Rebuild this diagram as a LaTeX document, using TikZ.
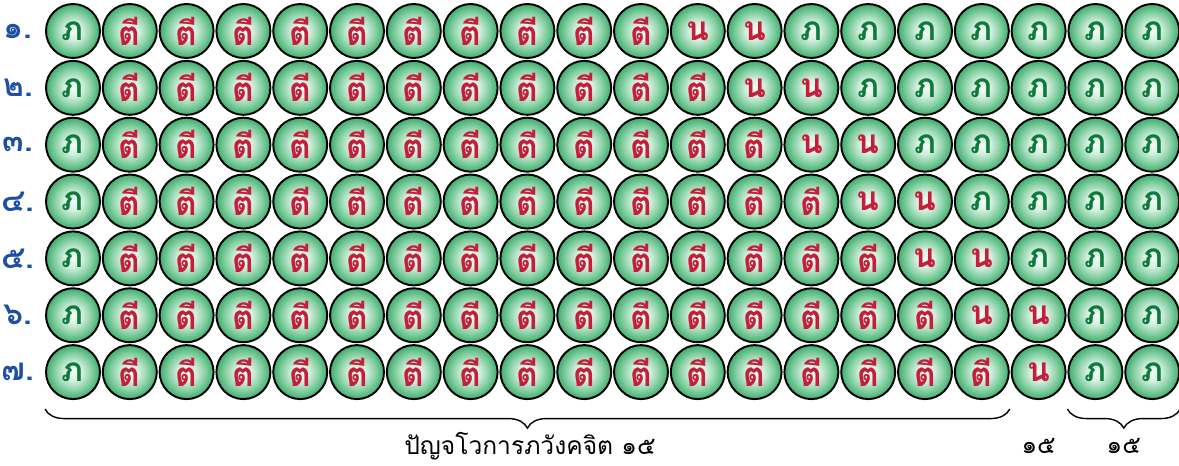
\documentclass[tikz,border=0pt]{standalone}
\usepackage{fontspec}
\newfontfamily\thaifont[Script=Thai]{Loma}
\usetikzlibrary{decorations.pathreplacing,calc}
\definecolor{ballgreen}{HTML}{40AD6E}
\definecolor{ballmid}{HTML}{86D0A4}
\definecolor{ballcore}{HTML}{F2FAF4}
\definecolor{bhagreen}{HTML}{0B7A3A}
\definecolor{tired}{HTML}{C41E3A}
\definecolor{rowblue}{HTML}{1D4FA5}
\pgfdeclareradialshading{ballglow}{\pgfpoint{0bp}{0bp}}{%
  color(0bp)=(ballcore); color(8bp)=(ballcore!75!ballmid); color(17bp)=(ballmid);
  color(25bp)=(ballgreen); color(50bp)=(ballgreen)}
\tikzset{
  citta/.style={circle, draw=black, line width=1.1pt, minimum size=1.08cm, inner sep=0pt,
    shading=ballglow, font=\thaifont\bfseries\fontsize{19}{19}\selectfont},
  rowlabel/.style={text=rowblue, font=\thaifont\bfseries\fontsize{18}{18}\selectfont},
  sumlabel/.style={font=\thaifont\fontsize{14}{14}\selectfont},
  sumbrace/.style={decorate, decoration={brace, mirror, amplitude=0.38cm}, line width=0.8pt}
}
\begin{document}
\begin{tikzpicture}[x=0.02cm, y=-0.02cm]
    \useasboundingbox (0,0) rectangle (1179,466);
    % one row per vithi, 20 moments each
    \foreach \r/\num in {1/๑,2/๒,3/๓,4/๔,5/๕,6/๖,7/๗}{
        \node[rowlabel] (n\r) at (18,{31+(\r-1)*56.85}) {\num.};
        \foreach \c in {1,...,20}{
            \pgfmathtruncatemacro\lastti{10+\r}
            \pgfmathtruncatemacro\lastna{min(12+\r,18)}
            \def\syl{ภ}\def\sylcolor{bhagreen}
            \ifnum\c>1 \ifnum\c>\lastna\else
                \ifnum\c>\lastti \def\syl{น}\else \def\syl{ตี}\fi
                \def\sylcolor{tired}
            \fi\fi
            \node[citta, text=\sylcolor] (c\r-\c) at ({73+(\c-1)*56.8},{31+(\r-1)*56.85}) {\syl};
        }
    }
    % braces under the last row
    \coordinate (braceA) at ([yshift=-0.18cm]c7-1.west |- c7-1.south);
    \coordinate (braceB) at ([yshift=-0.18cm]c7-17.east |- c7-17.south);
    \coordinate (braceC) at ([yshift=-0.18cm]c7-19.west |- c7-19.south);
    \coordinate (braceD) at ([yshift=-0.18cm]c7-20.east |- c7-20.south);
    \coordinate (lastpair) at ($(c7-19)!0.5!(c7-20)$);
    \draw[sumbrace] (braceA) -- (braceB);
    \draw[sumbrace] (braceC) -- (braceD);
    \node[sumlabel] (bhavanga) at (530,446) {ปัญจโวการภวังคจิต ๑๕};
    \node[sumlabel] (napart) at (c7-18 |- bhavanga) {๑๕};
    \node[sumlabel] (bhapart) at (lastpair |- bhavanga) {๑๕};
\end{tikzpicture}
\end{document}
